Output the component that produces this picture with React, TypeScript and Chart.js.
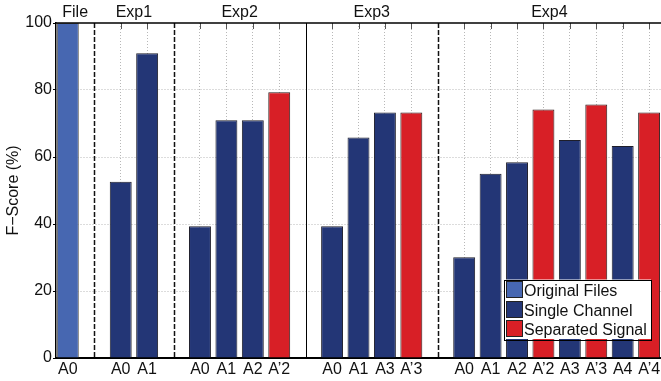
import React, { useEffect, useRef } from 'react';
import { Chart, registerables } from 'chart.js';

Chart.register(...registerables);

// ---- data ----
const categories = ['A0', '', 'A0', 'A1', '', 'A0', 'A1', 'A2', 'A’2', '', 'A0', 'A1', 'A3', 'A’3', '', 'A0', 'A1', 'A2', 'A’2', 'A3', 'A’3', 'A4', 'A’4'];
const groupNames = ['File', 'Exp1', 'Exp2', 'Exp3', 'Exp4'];
const seriesNames = ['Original Files', 'Single Channel', 'Separated Signal'];
const originalFiles = [100, null, null, null, null, null, null, null, null, null, null, null, null, null, null, null, null, null, null, null, null, null, null];
const singleChannel = [null, null, 52.6, 91.0, null, 39.3, 71.0, 71.0, null, null, 39.3, 65.8, 73.3, null, null, 30.1, 55.0, 58.4, null, 65.1, null, 63.3, null];
const separatedSignal = [null, null, null, null, null, null, null, null, 79.3, null, null, null, null, 73.3, null, null, null, null, 74.2, null, 75.7, null, 73.3];
const yTicks = [0, 20, 40, 60, 80, 100];
const yTitle = 'F−Score (%)';

const FONT = "'Liberation Sans', Arial, Helvetica, sans-serif";
const colors = ['#4767b1', '#233676', '#d81f26'];
const borders = ['#6a6a6a', '#1e1e2a', '#2a1a1a'];

const separatorIdx = categories.map((c, i) => (c === '' ? i : -1)).filter((i) => i >= 0);

const toPoints = (arr: (number | null)[]) =>
  arr.map((v, i) => (v == null ? null : { x: i, y: v })).filter((p) => p !== null);

const decorPlugin = {
  id: 'decor',
  beforeDatasetsDraw(chart: any) {
    const { ctx, chartArea: ca, scales } = chart;
    const x = scales.x;
    ctx.save();
    // inner tick marks on top edge
    ctx.strokeStyle = '#555';
    ctx.lineWidth = 1;
    categories.forEach((c, i) => {
      if (!c) return;
      const px = Math.round(x.getPixelForValue(i)) + 0.5;
      ctx.beginPath();
      ctx.moveTo(px, ca.top);
      ctx.lineTo(px, ca.top + 6);
      ctx.stroke();
    });
    // group separators
    separatorIdx.forEach((i, k) => {
      const px = Math.round(x.getPixelForValue(i)) + 0.5;
      ctx.beginPath();
      if (k === 2) {
        ctx.setLineDash([]);
        ctx.lineWidth = 1;
        ctx.strokeStyle = '#000';
      } else {
        ctx.setLineDash([5, 2]);
        ctx.lineWidth = 1.5;
        ctx.strokeStyle = '#111';
      }
      ctx.moveTo(px, ca.top);
      ctx.lineTo(px, ca.bottom);
      ctx.stroke();
    });
    ctx.restore();
  },
  afterDraw(chart: any) {
    const { ctx, chartArea: ca, scales } = chart;
    const x = scales.x;
    ctx.save();
    // top border
    ctx.strokeStyle = '#000';
    ctx.lineWidth = 1.5;
    ctx.beginPath();
    ctx.moveTo(ca.left, ca.top);
    ctx.lineTo(ca.right, ca.top);
    ctx.stroke();

    // group labels
    ctx.font = `16px ${FONT}`;
    ctx.fillStyle = '#111';
    ctx.textAlign = 'center';
    ctx.textBaseline = 'alphabetic';
    groupNames.forEach((name, g) => {
      const lo = g === 0 ? x.min : separatorIdx[g - 1];
      const hi = g === groupNames.length - 1 ? x.max : separatorIdx[g];
      const px = x.getPixelForValue((lo + hi) / 2);
      ctx.fillText(name, px, ca.top - 6);
    });

    // legend
    const datasets = chart.data.datasets;
    const rowH = 19.5;
    const sw = 17;
    let maxW = 0;
    datasets.forEach((d: any) => {
      maxW = Math.max(maxW, ctx.measureText(d.label).width);
    });
    const boxW = 2 + sw + 1 + maxW + 4;
    const boxH = datasets.length * rowH + 1;
    const right = ca.right - 10;
    const bottom = ca.bottom - 19;
    const left = right - boxW;
    const top = bottom - boxH;
    ctx.fillStyle = '#fff';
    ctx.fillRect(left, top, boxW, boxH);
    ctx.strokeStyle = '#000';
    ctx.lineWidth = 1;
    ctx.strokeRect(Math.round(left) + 0.5, Math.round(top) + 0.5, Math.round(boxW), Math.round(boxH));
    ctx.textAlign = 'left';
    datasets.forEach((d: any, r: number) => {
      const sy = Math.round(top + 1.5 + r * rowH);
      const sx = Math.round(left + 2);
      ctx.fillStyle = d.backgroundColor;
      ctx.fillRect(sx, sy, sw, sw);
      ctx.strokeStyle = '#222';
      ctx.strokeRect(sx + 0.5, sy + 0.5, sw - 1, sw - 1);
      ctx.fillStyle = '#111';
      ctx.fillText(d.label, sx + sw + 1, sy + 14.5);
    });
    ctx.restore();
  },
};

export default function App() {
  const ref = useRef<HTMLCanvasElement | null>(null);

  useEffect(() => {
    document.body.style.margin = '0';
    const canvas = ref.current;
    if (!canvas) return;
    Chart.defaults.font.family = FONT;
    Chart.defaults.color = '#111';

    const series = [originalFiles, singleChannel, separatedSignal];
    const chart = new Chart(canvas, {
      type: 'bar',
      data: {
        datasets: series.map((s, k) => ({
          label: seriesNames[k],
          data: toPoints(s) as any,
          backgroundColor: colors[k],
          borderColor: borders[k],
          borderWidth: 1,
          grouped: false,
          categoryPercentage: 1,
          barPercentage: 0.83,
        })),
      },
      options: {
        responsive: false,
        animation: false,
        devicePixelRatio: 1,
        layout: { padding: { top: 23, left: 0, right: 0, bottom: 0 } },
        plugins: {
          legend: { display: false },
          tooltip: { enabled: false },
        },
        scales: {
          x: {
            type: 'linear',
            min: -0.45,
            max: 22.45,
            offset: false,
            afterBuildTicks: (scale: any) => {
              scale.ticks = categories.map((_, i) => ({ value: i }));
            },
            afterFit: (scale: any) => {
              scale.height = 23;
              scale.paddingLeft = 0;
              scale.paddingRight = 0;
            },
            ticks: {
              autoSkip: false,
              maxRotation: 0,
              padding: 2,
              font: { size: 16 },
              color: '#111',
              callback: (v: any) => categories[v as number] ?? '',
            },
            grid: {
              offset: false,
              drawTicks: false,
              lineWidth: 1,
              color: (c: any) =>
                c.tick && categories[c.tick.value] ? '#b8b8b8' : 'rgba(0,0,0,0)',
            },
            border: { display: true, color: '#000', width: 2, dash: [1, 2] },
          },
          y: {
            min: 0,
            max: 100,
            afterBuildTicks: (scale: any) => {
              scale.ticks = yTicks.map((v) => ({ value: v }));
            },
            afterFit: (scale: any) => {
              scale.width = 56;
            },
            ticks: {
              padding: 1,
              font: { size: 16 },
              color: '#111',
            },
            grid: {
              drawTicks: true,
              tickLength: 3,
              tickColor: '#000',
              lineWidth: 1,
              color: (c: any) =>
                c.tick && (c.tick.value === 0 || c.tick.value === 100) ? 'rgba(0,0,0,0)' : '#b8b8b8',
            },
            border: { display: true, color: '#000', width: 1.5, dash: [1, 2] },
            title: {
              display: true,
              text: yTitle,
              font: { size: 16 },
              color: '#111',
              padding: { top: 4, bottom: 4 },
            },
          },
        },
      },
      plugins: [decorPlugin],
    });
    return () => chart.destroy();
  }, []);

  return (
    <div style={{ position: 'absolute', left: 0, top: 0, width: 661, height: 381 }}>
      <canvas ref={ref} width={661} height={381} style={{ display: 'block' }} />
    </div>
  );
}
